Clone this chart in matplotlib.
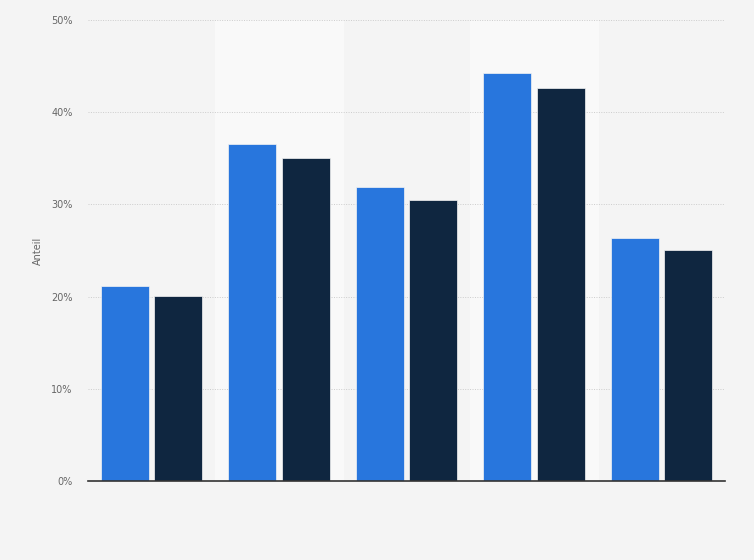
import numpy as np
import matplotlib.pyplot as plt
from matplotlib.ticker import FuncFormatter

# Werte (Anteil in %)
kategorien = ["1", "2", "3", "4", "5"]
serie_a = [21.2, 36.5, 31.9, 44.2, 26.4]
serie_b = [20.1, 35.0, 30.5, 42.6, 25.1]

fig = plt.figure(figsize=(7.54, 5.6), dpi=100, facecolor="#f4f4f4")
ax = fig.add_axes([0.1167, 0.1411, 0.8448, 0.8232])
ax.set_facecolor("#f4f4f4")

x = np.arange(len(kategorien))
breite = 0.377

# helle Bänder hinter jeder zweiten Kategorie
for i in x:
    if i % 2 == 1:
        ax.axvspan(i - 0.5, i + 0.5, color="#f9f9f9", zorder=0)

ax.bar(x - 0.21, serie_a, width=breite, color="#2876dd", edgecolor="#f4f4f4", linewidth=0.5, zorder=3)
ax.bar(x + 0.21, serie_b, width=breite, color="#0f2640", edgecolor="#f4f4f4", linewidth=0.5, zorder=3)

ax.set_xlim(-0.5, len(kategorien) - 0.5)
ax.set_ylim(0, 50)
ax.set_yticks(np.arange(0, 51, 10))
ax.yaxis.set_major_formatter(FuncFormatter(lambda v, p: f"{v:.0f}%"))
ax.set_xticks([])

ax.grid(axis="y", color="#cccccc", linestyle=(0, (1, 1.5)), linewidth=0.7, zorder=1)
for s in ["top", "right", "left"]:
    ax.spines[s].set_visible(False)
ax.spines["bottom"].set_color("#333333")
ax.spines["bottom"].set_linewidth(1.2)
ax.spines["bottom"].set_zorder(4)

ax.tick_params(axis="y", length=0, pad=11, labelsize=7, labelcolor="#666666")
ax.set_ylabel("Anteil", fontsize=7, color="#666666", labelpad=6)

fig.savefig("out.png", dpi=100, facecolor=fig.get_facecolor())
